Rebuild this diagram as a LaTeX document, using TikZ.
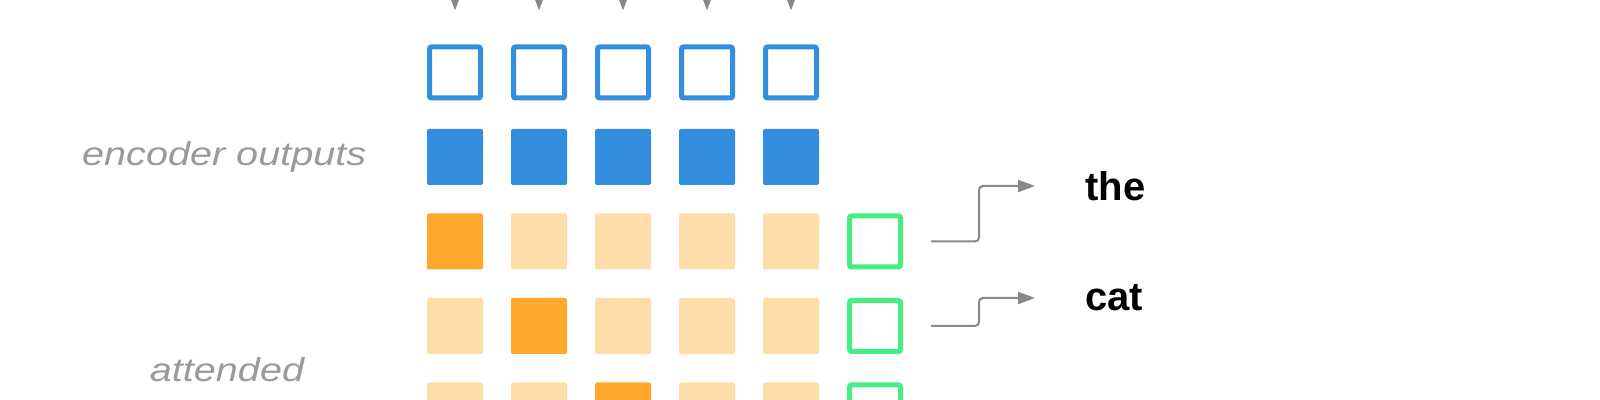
\documentclass[tikz,border=0pt]{standalone}
\usepackage{fontspec}
\setmainfont{Liberation Sans}
\newfontfamily\widefont{Liberation Sans}[FakeStretch=1.2]
\usetikzlibrary{arrows.meta,calc,positioning}
\definecolor{encblue}{HTML}{348EE0}
\definecolor{attdark}{HTML}{FFA82D}
\definecolor{attlight}{HTML}{FEDDAB}
\definecolor{outgreen}{HTML}{46EE82}
\definecolor{linegray}{HTML}{888888}
\definecolor{labelgray}{HTML}{9A9A9A}

\begin{document}
\begin{tikzpicture}[x=0.5pt,y=-0.5pt,cell/.style={rectangle,rounded corners=1pt,minimum size=28pt,inner sep=0pt},hollow/.style={cell,draw=#1,line width=2.5pt,minimum size=25.5pt},solid/.style={cell,fill=#1},arrow/.style={-{Triangle[length=8.5pt,width=6pt]},line width=1pt,draw=linegray},lbl/.style={font=\widefont\itshape\fontsize{16.5}{21}\selectfont,text=labelgray,align=center,inner sep=0pt},word/.style={font=\bfseries\fontsize{20}{24}\selectfont,inner sep=0pt,anchor=west}]
\useasboundingbox (0,0) rectangle (1600,400);
\clip (0,0) rectangle (1600,400);
\foreach \i in {1,...,5}{
  \node[hollow=encblue] (in\i) at (371+84*\i,72.5) {};
  \node[solid=encblue] (enc\i) at (371+84*\i,157) {};
  \coordinate (src\i) at (371+84*\i,-60);
  \draw[arrow,shorten >=17pt] (src\i) -- (in\i.north);
  \foreach \r in {1,2,3}{
    \ifnum\i=\r \def\cellcol{attdark}\else\def\cellcol{attlight}\fi
    \node[solid=\cellcol] (att\r\i) at (371+84*\i,157+84.5*\r) {};
  }
}
\foreach \r in {1,2,3}
  \node[hollow=outgreen] (out\r) at (875,157+84.5*\r) {};
\node[lbl,left=30pt of enc1] (enclbl) {encoder outputs};
\node[lbl,anchor=base] (attlbl) at (227,424) {attended\\encoder outputs};
\node[word] (the) at (1085,186) {the};
\node[word] (cat) at (1085,298) {cat};
\draw[arrow,rounded corners=2pt] ([xshift=14pt]out1.east) -- ++(24pt,0pt) |- ([xshift=-25pt]the.west);
\draw[arrow,rounded corners=2pt] ([xshift=14pt]out2.east) -- ++(24pt,0pt) |- ([xshift=-25pt]cat.west);
\end{tikzpicture}
\end{document}
